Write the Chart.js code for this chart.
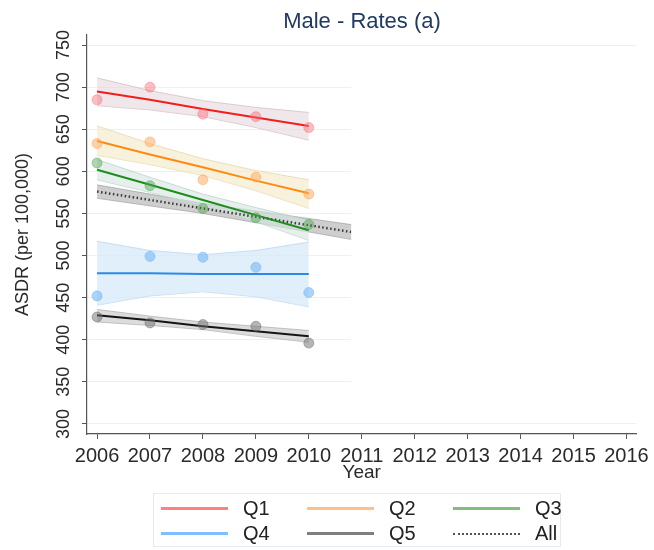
<!DOCTYPE html>
<html>
<head>
<meta charset="utf-8">
<script src="https://cdn.jsdelivr.net/npm/chart.js@4"></script>
<style>
  body { margin: 0; background: #fff; font-family: "Liberation Sans", Arial, sans-serif; }
  #wrap { position: relative; width: 654px; height: 550px; }
  #title {
    position: absolute; left: 87px; width: 550px; top: 8px; height: 26px; line-height: 26px;
    text-align: center; font-size: 22px; color: #1f3a63;
  }
  #legend {
    position: absolute; left: 153px; top: 493px; width: 408px; height: 54px;
    border: 1px solid #e4eaed; display: grid;
    grid-template-columns: 146px 146px 116px; grid-template-rows: 25px 25px;
    padding-top: 2px; box-sizing: border-box; color: #222; font-size: 20px;
  }
  .item { display: flex; align-items: center; }
  .swatch { width: 67px; margin: 0 15px 0 7px; border-top: 3px solid; }
</style>
</head>
<body>
<div id="wrap">
  <canvas id="chart" width="654" height="550"></canvas>
  <div id="title"></div>
  <div id="legend"></div>
</div>
<script>
// ---- Data ----
const TITLE = "Male - Rates (a)";
const YEARS = [2006, 2007, 2008, 2009, 2010];
const ALL_YEARS = [2006, 2007, 2008, 2009, 2010, 2011];
const X_TICKS = [2006, 2007, 2008, 2009, 2010, 2011, 2012, 2013, 2014, 2015, 2016];
const Y_TICKS = [300, 350, 400, 450, 500, 550, 600, 650, 700, 750];

const Q1_RATES = [685, 700, 668, 665, 652];
const Q2_RATES = [633, 635, 590, 593, 573];
const Q3_RATES = [610, 583, 556, 545, 537];
const Q4_RATES = [452, 499, 498, 486, 456];
const Q5_RATES = [427, 420, 418, 416, 396];

const Q1_FIT = [695, 685, 674, 664, 654];
const Q2_FIT = [636, 620, 605, 589, 574];
const Q3_FIT = [602, 584, 566, 548, 530];
const Q4_FIT = [479, 479, 478, 478, 478];
const Q5_FIT = [429, 423, 416, 410, 404];
const ALL_FIT = [576, 566, 556, 546, 536, 526];

const Q1_UPPER = [711, 696, 684, 676, 670];
const Q1_LOWER = [678, 673, 665, 652, 637];
const Q2_UPPER = [654, 633, 615, 601, 590];
const Q2_LOWER = [619, 608, 595, 577, 556];
const Q3_UPPER = [614, 593, 573, 557, 542];
const Q3_LOWER = [590, 575, 559, 540, 518];
const Q4_UPPER = [517, 506, 501, 506, 516];
const Q4_LOWER = [441, 452, 457, 451, 439];
const Q5_UPPER = [436, 428, 421, 416, 411];
const Q5_LOWER = [421, 417, 412, 404, 397];
const ALL_UPPER = [584, 573, 562, 553, 544, 535];
const ALL_LOWER = [568, 559, 550, 539, 528, 517];

const GROUPS = ["Q1", "Q2", "Q3", "Q4", "Q5", "All"];

// ---- Styles ----
const STYLE = {
  Q1:  { line: "#f21d1d", band: "rgba(228,212,218,0.55)", edge: "rgba(205,185,192,0.7)", dot: "rgba(250,110,120,0.45)", key: "#ff8080" },
  Q2:  { line: "#ff8a12", band: "rgba(243,234,196,0.6)",  edge: "rgba(225,212,165,0.7)", dot: "rgba(255,165,90,0.5)",  key: "#ffc08a" },
  Q3:  { line: "#1e8c1e", band: "rgba(212,228,222,0.6)",  edge: "rgba(185,205,198,0.7)", dot: "rgba(80,165,80,0.45)",  key: "#80bf80" },
  Q4:  { line: "#2b8ae8", band: "rgba(212,232,250,0.7)",  edge: "rgba(185,215,242,0.8)", dot: "rgba(120,185,245,0.6)", key: "#80bfff" },
  Q5:  { line: "#151515", band: "rgba(185,185,185,0.5)",  edge: "rgba(160,160,160,0.6)", dot: "rgba(110,110,110,0.5)", key: "#7f7f7f" },
  All: { line: "#3a3a3a", band: "rgba(165,165,165,0.55)", edge: "rgba(150,150,150,0.6)", dot: null, key: "#555" }
};

const pts = (xs, ys) => xs.map((x, i) => ({ x, y: ys[i] }));

const SERIES = {
  Q1:  { xs: YEARS, rates: Q1_RATES, fit: Q1_FIT, up: Q1_UPPER, lo: Q1_LOWER },
  Q2:  { xs: YEARS, rates: Q2_RATES, fit: Q2_FIT, up: Q2_UPPER, lo: Q2_LOWER },
  Q3:  { xs: YEARS, rates: Q3_RATES, fit: Q3_FIT, up: Q3_UPPER, lo: Q3_LOWER },
  Q4:  { xs: YEARS, rates: Q4_RATES, fit: Q4_FIT, up: Q4_UPPER, lo: Q4_LOWER },
  Q5:  { xs: YEARS, rates: Q5_RATES, fit: Q5_FIT, up: Q5_UPPER, lo: Q5_LOWER },
  All: { xs: ALL_YEARS, rates: null, fit: ALL_FIT, up: ALL_UPPER, lo: ALL_LOWER }
};

function buildDatasets() {
  const out = [];
  GROUPS.forEach(g => {
    const s = SERIES[g], st = STYLE[g];
    // confidence band: upper filled down to lower
    out.push({ label: g + " upper", data: pts(s.xs, s.up), borderColor: st.edge, borderWidth: 1,
               backgroundColor: st.band, fill: "+1", pointRadius: 0, order: 3 });
    out.push({ label: g + " lower", data: pts(s.xs, s.lo), borderColor: st.edge, borderWidth: 1,
               fill: false, pointRadius: 0, order: 3 });
  });
  GROUPS.forEach(g => {
    const s = SERIES[g], st = STYLE[g];
    out.push({ label: g, data: pts(s.xs, s.fit), borderColor: st.line,
               borderWidth: g === "All" ? 2.5 : 2, borderDash: g === "All" ? [1.5, 2.5] : [],
               pointRadius: 0, fill: false, order: 2 });
    if (s.rates) {
      out.push({ label: g + " rate", data: pts(s.xs, s.rates), showLine: false,
                 pointRadius: 5, pointBackgroundColor: st.dot, pointBorderColor: st.dot,
                 pointBorderWidth: 1, order: 1 });
    }
  });
  return out;
}

// white patch on the right side of the plot (gridlines stop at ~2010.8 in the original)
const rightPatch = {
  id: "rightPatch",
  afterDatasetsDraw(chart) {
    const { ctx, chartArea, scales: { x, y } } = chart;
    const left = x.getPixelForValue(2010.8);
    const top = y.getPixelForValue(745), bottom = y.getPixelForValue(305);
    ctx.save();
    ctx.fillStyle = "#fff";
    ctx.fillRect(left, top, chartArea.right - left + 2, bottom - top);
    ctx.restore();
  }
};

const AXIS = "#555";
const TEXT = "#2a2a2a";
const FONT = "'Liberation Sans', Arial";

function makeChart() {
  new Chart(document.getElementById("chart"), {
    type: "line",
    data: { datasets: buildDatasets() },
    plugins: [rightPatch],
    options: {
      responsive: false,
      animation: false,
      layout: { padding: { top: 35, right: 17, bottom: 66, left: 0 } },
      plugins: {
        legend: { display: false },
        tooltip: { enabled: false }
      },
      scales: {
        x: {
          type: "linear", bounds: "data", min: 2005.81, max: 2016.19,
          afterFit: s => { s.height = 50; },
          afterBuildTicks: s => { s.ticks = X_TICKS.map(v => ({ value: v })); },
          grid: { drawOnChartArea: false, tickLength: 5, tickColor: AXIS },
          border: { color: AXIS, width: 1.2 },
          ticks: {
            autoSkip: false, maxRotation: 0, padding: 5, color: TEXT,
            font: { family: FONT, size: 20 },
            callback: v => String(v)
          },
          title: { display: true, text: "Year", color: TEXT, padding: { top: 0, bottom: 0 },
                   font: { family: FONT, size: 19 } }
        },
        y: {
          type: "linear", bounds: "data", min: 288, max: 762,
          afterFit: s => { s.width = 87; },
          afterBuildTicks: s => { s.ticks = Y_TICKS.map(v => ({ value: v })); },
          grid: { color: "#eef1f3", lineWidth: 1, tickLength: 5, tickColor: AXIS },
          border: { color: AXIS, width: 1.2 },
          ticks: {
            autoSkip: false, minRotation: 90, maxRotation: 90, crossAlign: "center", padding: 3,
            color: TEXT, font: { family: FONT, size: 18 },
            callback: v => String(v)
          },
          title: { display: true, text: "ASDR (per 100,000)", color: TEXT, padding: { top: 12, bottom: 0 },
                   font: { family: FONT, size: 18 } }
        }
      }
    }
  });
}

function buildLegend() {
  const box = document.getElementById("legend");
  box.innerHTML = GROUPS.map(g => {
    const st = STYLE[g];
    const border = g === "All" ? `border-top: 2px dotted ${st.key};` : `border-top-color: ${st.key};`;
    return `<div class="item"><span class="swatch" style="${border}"></span><span>${g}</span></div>`;
  }).join("");
}

document.addEventListener("DOMContentLoaded", () => {
  document.getElementById("title").textContent = TITLE;
  makeChart();
  buildLegend();
});
</script>
</body>
</html>
